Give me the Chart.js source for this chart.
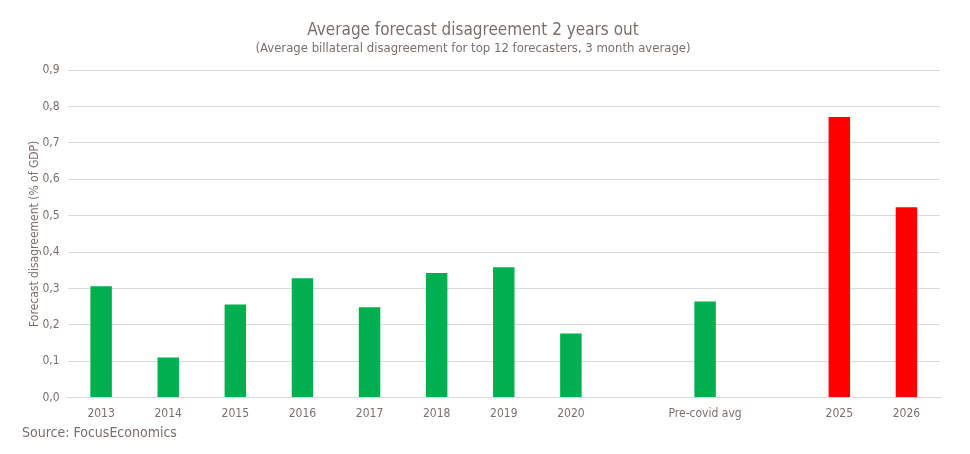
<!DOCTYPE html>
<html>
<head>
<meta charset="utf-8">
<script src="https://cdn.jsdelivr.net/npm/chart.js@4/dist/chart.umd.min.js"></script>
<style>
  html, body { margin: 0; padding: 0; background: #fff; }
  #wrap { position: relative; width: 970px; height: 454px; }
  #source { position: absolute; left: 22px; top: 424px; font: 14px "Liberation Sans Narrow", "DejaVu Sans Condensed", sans-serif; color: #7a706b; }
</style>
</head>
<body>
<div id="wrap">
  <canvas id="c" width="970" height="454"></canvas>
  <div id="source">Source: FocusEconomics</div>
</div>
<script>
const categories = ["2013", "2014", "2015", "2016", "2017", "2018", "2019", "2020", "", "Pre-covid avg", "", "2025", "2026"];
const disagreement = [0.306, 0.110, 0.256, 0.328, 0.248, 0.342, 0.358, 0.176, null, 0.264, null, 0.771, 0.523];
const barColors = ["#00b050", "#00b050", "#00b050", "#00b050", "#00b050", "#00b050", "#00b050", "#00b050", "#00b050", "#00b050", "#ff0000", "#ff0000", "#ff0000"];
const yTicks = [0, 0.1, 0.2, 0.3, 0.4, 0.5, 0.6, 0.7, 0.8, 0.9];

const FONT = "'Liberation Sans Narrow', 'DejaVu Sans Condensed', sans-serif";
const GREY = "#7a706b";

new Chart(document.getElementById("c"), {
  type: "bar",
  data: {
    labels: categories,
    datasets: [{ label: "Forecast disagreement", data: disagreement, backgroundColor: barColors, borderWidth: 0, barPercentage: 0.32, categoryPercentage: 1 }]
  },
  options: {
    responsive: false,
    animation: false,
    layout: { padding: { left: 6, right: 30, top: 4, bottom: 32 } },
    plugins: {
      legend: { display: false },
      tooltip: { enabled: false },
      title: { display: true, text: "Average forecast disagreement 2 years out", color: GREY, font: { family: FONT, size: 17, weight: "normal" }, padding: { top: 16, bottom: 0 } },
      subtitle: { display: true, text: "(Average billateral disagreement for top 12 forecasters, 3 month average)", color: GREY, font: { family: FONT, size: 13 }, padding: { bottom: 14 } }
    },
    scales: {
      x: {
        grid: { display: false },
        border: { color: "#d9d9d9" },
        ticks: { color: GREY, font: { family: FONT, size: 12 }, maxRotation: 0, autoSkip: false, padding: 1 }
      },
      y: {
        min: 0, max: 0.9,
        afterBuildTicks: axis => { axis.ticks = yTicks.map(v => ({ value: v })); },
        grid: { color: "#d9d9d9", drawTicks: false },
        border: { display: false },
        ticks: { color: GREY, font: { family: FONT, size: 12 }, padding: 8, callback: v => v.toFixed(1).replace(".", ",") },
        title: { display: true, text: "Forecast disagreement (% of GDP)", color: GREY, font: { family: FONT, size: 12 }, padding: { top: 22, bottom: -8 } }
      }
    }
  }
});
</script>
</body>
</html>
